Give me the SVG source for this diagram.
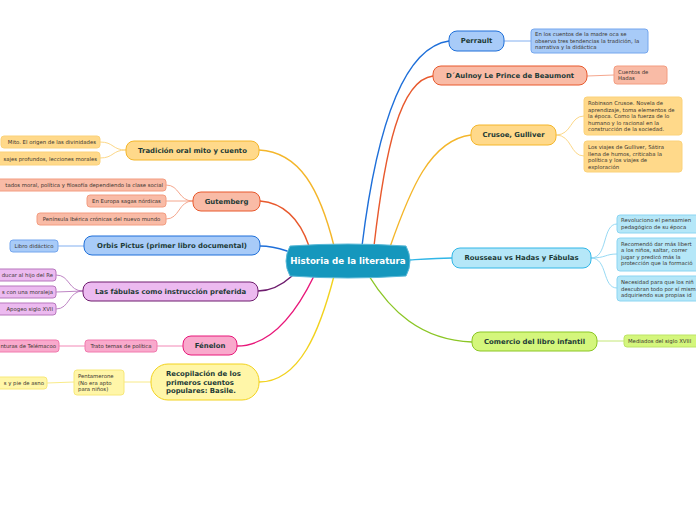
<svg xmlns="http://www.w3.org/2000/svg" width="696" height="520" viewBox="0 0 696 520">
<style>
.m{font-family:"DejaVu Sans",Verdana,sans-serif;font-weight:bold;font-size:6.9px;fill:#1c3a36;text-anchor:middle;dominant-baseline:central}
.s{font-family:"DejaVu Sans",Verdana,sans-serif;font-size:5.35px;fill:#3a3530}
.c{fill:none;stroke-width:1.4;stroke-linecap:round}
.t{fill:none;stroke-width:0.9}
.blue{fill:#a8cbf8;stroke:#1e6fd9}
.sblue{fill:#a8cbf8;stroke:#74a6ee}
.org{fill:#f9bba6;stroke:#e8592d}
.sorg{fill:#f9bba6;stroke:#f39c80}
.yel{fill:#ffd98a;stroke:#f4b62a}
.syel{fill:#ffd98a;stroke:#fbd27a}
.cy{fill:#b5e7f8;stroke:#31b6e7}
.scy{fill:#b5e7f8;stroke:#8bd5f2}
.grn{fill:#d4f67c;stroke:#8bc625}
.sgrn{fill:#d4f67c;stroke:#bde466}
.pur{fill:#ecbaf0;stroke:#6e1d6e}
.spur{fill:#ecbaf0;stroke:#b777bd}
.pnk{fill:#f9a9cc;stroke:#e8187a}
.spnk{fill:#f9a9cc;stroke:#f17aae}
.lyel{fill:#fff6a8;stroke:#f2d21e}
.slyel{fill:#fff6a8;stroke:#f7e87a}
</style>
<rect width="696" height="520" fill="#ffffff"/>
<g id="connectors">
<path class="c" stroke="#1e6fd9" d="M362,246 C375,140 400,48 449,41"/>
<path class="c" stroke="#e8592d" d="M374,246 C385,150 400,80 433,76"/>
<path class="c" stroke="#f4b62a" d="M390,247 C410,190 430,140 471,135"/>
<path class="c" stroke="#31b6e7" d="M410,260 C425,259 438,258 452,258"/>
<path class="c" stroke="#8bc625" d="M369,276 C390,310 420,340 472,342"/>
<path class="c" stroke="#f4b62a" d="M334,246 C320,190 300,152 259,150"/>
<path class="c" stroke="#e8592d" d="M309,246 C300,220 285,203 260,201"/>
<path class="c" stroke="#1e6fd9" d="M287,251 C275,247 268,246 260,246"/>
<path class="c" stroke="#6e1d6e" d="M292,276 C282,285 272,291 258,291"/>
<path class="c" stroke="#e8187a" d="M314,276 C295,315 270,346 237,346"/>
<path class="c" stroke="#f2d21e" d="M334,276 C320,330 300,382 259,382"/>
<path class="t" stroke="#74a6ee" d="M504,41 L531,41"/>
<path class="t" stroke="#f39c80" d="M587,76 L614,75"/>
<path class="t" stroke="#fbd27a" d="M556,135 C572,135 570,116 584,116 M556,135 C572,135 570,156 584,156"/>
<path class="t" stroke="#8bd5f2" d="M591,258 C608,258 602,224 617,224 M591,258 C606,258 605,254 617,254 M591,258 C608,258 602,288 617,288"/>
<path class="t" stroke="#bde466" d="M597,341 L624,341"/>
<path class="t" stroke="#fbd27a" d="M126,150 C112,150 114,142 100,142 M126,150 C112,150 114,158 100,158"/>
<path class="t" stroke="#f39c80" d="M193,201 C178,201 180,185 166,185 M193,201 L166,201 M193,201 C178,201 180,219 166,219"/>
<path class="t" stroke="#74a6ee" d="M84,246 L58,246"/>
<path class="t" stroke="#b777bd" d="M83,291 C68,291 70,275 56,275 M83,291 L56,292 M83,291 C68,291 70,309 56,309"/>
<path class="t" stroke="#f17aae" d="M183,346 L157,346 M85,346 L59,346"/>
<path class="t" stroke="#f7e87a" d="M151,382 L124,382 M74,382 L47,383"/>
</g>
<g id="central">
<path d="M290,246 Q348,242 406,246 Q414,261 406,276 Q348,280 290,276 Q282,261 290,246 Z" fill="#1597bd" stroke="#5ab9d8" stroke-width="1"/>
<text x="348" y="261" font-family="DejaVu Sans,Verdana,sans-serif" font-weight="bold" font-size="8.7" fill="#ffffff" text-anchor="middle" dominant-baseline="central">Historia de la literatura</text>
</g>
<g id="perrault">
<rect class="blue" x="449" y="31" width="55" height="20" rx="8"/>
<text class="m" x="476.5" y="41">Perrault</text>
</g>
<g id="perrault-1">
<rect class="sblue" x="531" y="29" width="117" height="24" rx="3"/>
<text class="s" x="535" y="36">En los cuentos de la madre oca se</text>
<text class="s" x="535" y="42.5">observa tres tendencias la tradición, la</text>
<text class="s" x="535" y="49">narrativa y la didáctica</text>
</g>
<g id="daulnoy">
<rect class="org" x="433" y="66" width="154" height="19" rx="8"/>
<text class="m" x="510" y="75.5">D´Aulnoy Le Prince de Beaumont</text>
</g>
<g id="daulnoy-1">
<rect class="sorg" x="614" y="66" width="53" height="18" rx="3"/>
<text class="s" x="618" y="73.5">Cuentos de</text>
<text class="s" x="618" y="80">Hadas</text>
</g>
<g id="crusoe">
<rect class="yel" x="471" y="125" width="85" height="20" rx="8"/>
<text class="m" x="513.5" y="135">Crusoe, Gulliver</text>
</g>
<g id="crusoe-1">
<rect class="syel" x="584" y="97" width="98" height="38" rx="3"/>
<text class="s" x="588" y="105">Robinson Crusoe. Novela de</text>
<text class="s" x="588" y="111.5">aprendizaje, toma elementos de</text>
<text class="s" x="588" y="118">la época. Como la fuerza de lo</text>
<text class="s" x="588" y="124.5">humano y lo racional en la</text>
<text class="s" x="588" y="131">construcción de la sociedad.</text>
</g>
<g id="crusoe-2">
<rect class="syel" x="584" y="141" width="98" height="31" rx="3"/>
<text class="s" x="588" y="149">Los viajes de Gulliver, Sátira</text>
<text class="s" x="588" y="155.5">llena de humos, criticaba la</text>
<text class="s" x="588" y="162">política y los viajes de</text>
<text class="s" x="588" y="168.5">exploración</text>
</g>
<g id="rousseau">
<rect class="cy" x="452" y="248" width="139" height="20" rx="8"/>
<text class="m" x="521.5" y="258">Rousseau vs Hadas y Fábulas</text>
</g>
<g id="rousseau-1">
<rect class="scy" x="617" y="215" width="90" height="18" rx="3"/>
<text class="s" x="621" y="222">Revoluciono el pensamien</text>
<text class="s" x="621" y="228.5">pedagógico de su época</text>
</g>
<g id="rousseau-2">
<rect class="scy" x="617" y="238" width="90" height="33" rx="3"/>
<text class="s" x="621" y="245.5">Recomendó dar más libert</text>
<text class="s" x="621" y="252">a los niños, saltar, correr</text>
<text class="s" x="621" y="258.5">jugar y predicó más la</text>
<text class="s" x="621" y="265">protección que la formació</text>
</g>
<g id="rousseau-3">
<rect class="scy" x="617" y="276" width="90" height="25" rx="3"/>
<text class="s" x="621" y="284">Necesidad para que los niñ</text>
<text class="s" x="621" y="290.5">descubran todo por sí mism</text>
<text class="s" x="621" y="297">adquiriendo sus propias id</text>
</g>
<g id="comercio">
<rect class="grn" x="472" y="332" width="125" height="19" rx="8"/>
<text class="m" x="534.5" y="341.5">Comercio del libro infantil</text>
</g>
<g id="comercio-1">
<rect class="sgrn" x="624" y="335" width="80" height="12" rx="3"/>
<text class="s" x="628" y="343">Mediados del siglo XVIII</text>
</g>
<g id="tradicion">
<rect class="yel" x="126" y="141" width="133" height="19" rx="8"/>
<text class="m" x="192.5" y="150.5">Tradición oral mito y cuento</text>
</g>
<g id="tradicion-1">
<rect class="syel" x="1" y="136" width="99" height="12" rx="3"/>
<text class="s" x="96" y="144" text-anchor="end">Mito. El origen de las divinidades</text>
</g>
<g id="tradicion-2">
<rect class="syel" x="-10" y="152" width="110" height="13" rx="3"/>
<text class="s" x="97" y="160.5" text-anchor="end">sajes profundos, lecciones morales</text>
</g>
<g id="gutemberg">
<rect class="org" x="193" y="192" width="67" height="19" rx="8"/>
<text class="m" x="226.5" y="201.5">Gutemberg</text>
</g>
<g id="gutemberg-1">
<rect class="sorg" x="-20" y="179" width="186" height="12" rx="3"/>
<text class="s" x="163" y="187" text-anchor="end">tados moral, política y filosofía dependiendo la clase social</text>
</g>
<g id="gutemberg-2">
<rect class="sorg" x="87" y="195" width="79" height="12" rx="3"/>
<text class="s" x="126.5" y="203" text-anchor="middle">En Europa sagas nórdicas</text>
</g>
<g id="gutemberg-3">
<rect class="sorg" x="37" y="213" width="129" height="12" rx="3"/>
<text class="s" x="101.5" y="221" text-anchor="middle">Península Ibérica crónicas del nuevo mundo</text>
</g>
<g id="orbis">
<rect class="blue" x="84" y="236" width="176" height="19" rx="8"/>
<text class="m" x="172" y="245.5">Orbis Pictus (primer libro documental)</text>
</g>
<g id="orbis-1">
<rect class="sblue" x="10" y="240" width="48" height="12" rx="3"/>
<text class="s" x="34" y="248" text-anchor="middle">Libro didáctico</text>
</g>
<g id="fabulas">
<rect class="pur" x="83" y="282" width="175" height="19" rx="8"/>
<text class="m" x="170.5" y="291.5">Las fábulas como instrucción preferida</text>
</g>
<g id="fabulas-1">
<rect class="spur" x="-30" y="269" width="86" height="12" rx="3"/>
<text class="s" x="53" y="277" text-anchor="end">ducar al hijo del Re</text>
</g>
<g id="fabulas-2">
<rect class="spur" x="-30" y="286" width="86" height="12" rx="3"/>
<text class="s" x="53" y="294" text-anchor="end">s con una moraleja</text>
</g>
<g id="fabulas-3">
<rect class="spur" x="-30" y="303" width="86" height="12" rx="3"/>
<text class="s" x="53" y="311" text-anchor="end">Apogeo siglo XVII</text>
</g>
<g id="fenelon">
<rect class="pnk" x="183" y="336" width="54" height="19" rx="8"/>
<text class="m" x="210" y="345.5">Fénelon</text>
</g>
<g id="fenelon-1">
<rect class="spnk" x="85" y="340" width="72" height="12" rx="3"/>
<text class="s" x="121" y="348" text-anchor="middle">Trato temas de política</text>
</g>
<g id="fenelon-2">
<rect class="spnk" x="-40" y="340" width="99" height="12" rx="3"/>
<text class="s" x="56" y="348" text-anchor="end">nturas de Telémacoo</text>
</g>
<g id="recopilacion">
<rect class="lyel" x="151" y="364" width="108" height="36" rx="17"/>
<text class="m" x="166" y="374" style="text-anchor:start">Recopilación de los</text>
<text class="m" x="166" y="382.5" style="text-anchor:start">primeros cuentos</text>
<text class="m" x="166" y="391" style="text-anchor:start">populares: Basile.</text>
</g>
<g id="recopilacion-1">
<rect class="slyel" x="74" y="370" width="50" height="25" rx="3"/>
<text class="s" x="78" y="378">Pentamerone</text>
<text class="s" x="78" y="384.5">(No era apto</text>
<text class="s" x="78" y="391">para niños)</text>
</g>
<g id="recopilacion-2">
<rect class="slyel" x="-40" y="377" width="87" height="12" rx="3"/>
<text class="s" x="44" y="385" text-anchor="end">s y pie de asno</text>
</g>
</svg>
